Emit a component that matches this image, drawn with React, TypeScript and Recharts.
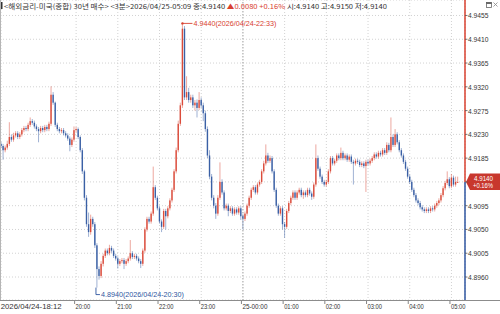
import React from 'react';
import { ComposedChart, Bar, XAxis, YAxis, CartesianGrid, ReferenceLine, ReferenceDot } from 'recharts';

const OPEN = [4.9212,4.9208,4.9200,4.9205,4.9212,4.9225,4.9220,4.9228,4.9232,4.9225,
4.9230,4.9238,4.9242,4.9240,4.9248,4.9255,4.9252,4.9245,4.9240,4.9236,
4.9242,4.9238,4.9244,4.9240,4.9250,4.9305,4.9290,4.9248,4.9240,4.9236,
4.9238,4.9232,4.9228,4.9222,4.9210,4.9220,4.9238,4.9240,4.9225,4.9200,
4.9160,4.9110,4.9060,4.9045,4.9070,4.9060,4.9020,4.8975,4.8962,4.8985,
4.9000,4.9010,4.9005,4.9015,4.9010,4.9000,4.8995,4.8985,4.8990,4.8992,
4.8985,4.8990,4.8995,4.9005,4.8998,4.9000,4.8995,4.8990,4.8985,4.9010,
4.9050,4.9070,4.9065,4.9080,4.9130,4.9110,4.9090,4.9065,4.9055,4.9085,
4.9075,4.9090,4.9105,4.9125,4.9160,4.9200,4.9250,4.9285,4.9430,4.9300,
4.9310,4.9295,4.9300,4.9285,4.9290,4.9280,4.9295,4.9285,4.9270,4.9240,
4.9190,4.9150,4.9110,4.9095,4.9080,4.9110,4.9140,4.9120,4.9090,4.9095,
4.9085,4.9090,4.9080,4.9088,4.9082,4.9090,4.9075,4.9070,4.9080,4.9095,
4.9110,4.9125,4.9130,4.9120,4.9135,4.9140,4.9160,4.9175,4.9190,4.9180,
4.9185,4.9160,4.9125,4.9095,4.9080,4.9090,4.9060,4.9055,4.9085,4.9100,
4.9110,4.9120,4.9110,4.9120,4.9125,4.9115,4.9120,4.9115,4.9125,4.9118,
4.9112,4.9135,4.9185,4.9165,4.9150,4.9140,4.9135,4.9140,4.9160,4.9185,
4.9175,4.9180,4.9190,4.9185,4.9195,4.9185,4.9190,4.9182,4.9188,4.9178,
4.9175,4.9180,4.9178,4.9172,4.9175,4.9170,4.9178,4.9175,4.9180,4.9185,
4.9192,4.9188,4.9195,4.9192,4.9200,4.9195,4.9210,4.9200,4.9225,4.9210,
4.9230,4.9215,4.9200,4.9190,4.9178,4.9165,4.9150,4.9140,4.9125,4.9115,
4.9105,4.9100,4.9092,4.9088,4.9085,4.9088,4.9085,4.9090,4.9088,4.9095,
4.9100,4.9105,4.9115,4.9128,4.9138,4.9145,4.9132,4.9148,4.9135,4.9140];

const HIGH = [4.9216,4.9212,4.9209,4.9218,4.9253,4.9230,4.9233,4.9236,4.9236,4.9234,
4.9242,4.9246,4.9246,4.9252,4.9262,4.9259,4.9256,4.9249,4.9244,4.9246,
4.9246,4.9248,4.9248,4.9254,4.9321,4.9310,4.9292,4.9252,4.9244,4.9242,
4.9242,4.9236,4.9232,4.9226,4.9224,4.9245,4.9244,4.9243,4.9228,4.9204,
4.9163,4.9115,4.9082,4.9078,4.9074,4.9064,4.9024,4.8980,4.8990,4.9004,
4.9014,4.9014,4.9021,4.9019,4.9014,4.9004,4.8999,4.8994,4.8996,4.8996,
4.8994,4.8999,4.9030,4.9009,4.9004,4.9004,4.8999,4.8994,4.9014,4.9054,
4.9074,4.9074,4.9084,4.9169,4.9134,4.9114,4.9094,4.9069,4.9089,4.9089,
4.9094,4.9109,4.9129,4.9164,4.9205,4.9256,4.9290,4.9440,4.9435,4.9340,
4.9318,4.9305,4.9305,4.9295,4.9296,4.9310,4.9300,4.9290,4.9275,4.9245,
4.9200,4.9155,4.9115,4.9100,4.9115,4.9177,4.9145,4.9124,4.9099,4.9099,
4.9094,4.9094,4.9092,4.9092,4.9094,4.9094,4.9079,4.9084,4.9099,4.9114,
4.9129,4.9134,4.9134,4.9139,4.9144,4.9164,4.9180,4.9211,4.9195,4.9190,
4.9189,4.9164,4.9129,4.9099,4.9094,4.9094,4.9064,4.9089,4.9104,4.9114,
4.9124,4.9124,4.9124,4.9129,4.9129,4.9124,4.9124,4.9129,4.9129,4.9122,
4.9139,4.9211,4.9190,4.9169,4.9154,4.9144,4.9144,4.9164,4.9189,4.9189,
4.9184,4.9194,4.9194,4.9205,4.9199,4.9194,4.9194,4.9192,4.9192,4.9182,
4.9184,4.9184,4.9182,4.9179,4.9179,4.9182,4.9182,4.9184,4.9189,4.9196,
4.9196,4.9199,4.9199,4.9204,4.9204,4.9215,4.9214,4.9262,4.9230,4.9240,
4.9234,4.9219,4.9204,4.9194,4.9182,4.9169,4.9154,4.9144,4.9129,4.9119,
4.9109,4.9104,4.9096,4.9092,4.9092,4.9092,4.9094,4.9094,4.9099,4.9104,
4.9109,4.9119,4.9132,4.9142,4.9160,4.9149,4.9155,4.9152,4.9150,4.9150];

const LOW = [4.9204,4.9182,4.9196,4.9201,4.9208,4.9216,4.9216,4.9224,4.9221,4.9221,
4.9226,4.9234,4.9236,4.9236,4.9244,4.9248,4.9241,4.9236,4.9215,4.9232,
4.9234,4.9234,4.9236,4.9236,4.9246,4.9286,4.9244,4.9236,4.9232,4.9232,
4.9228,4.9224,4.9218,4.9198,4.9206,4.9216,4.9234,4.9221,4.9196,4.9155,
4.9105,4.9055,4.9036,4.9040,4.9055,4.9015,4.8940,4.8955,4.8958,4.8980,
4.8996,4.9001,4.9001,4.9006,4.8996,4.8991,4.8976,4.8981,4.8986,4.8975,
4.8981,4.8986,4.8991,4.8994,4.8994,4.8991,4.8986,4.8977,4.8981,4.9006,
4.9046,4.9061,4.9061,4.9076,4.9106,4.9086,4.9061,4.9045,4.9051,4.9050,
4.9071,4.9086,4.9101,4.9121,4.9156,4.9196,4.9246,4.9280,4.9295,4.9295,
4.9290,4.9290,4.9280,4.9275,4.9262,4.9276,4.9280,4.9255,4.9235,4.9185,
4.9145,4.9105,4.9090,4.9070,4.9076,4.9106,4.9116,4.9086,4.9086,4.9075,
4.9081,4.9076,4.9076,4.9078,4.9078,4.9068,4.9050,4.9066,4.9076,4.9091,
4.9106,4.9121,4.9116,4.9116,4.9131,4.9136,4.9156,4.9171,4.9176,4.9176,
4.9156,4.9121,4.9091,4.9076,4.9076,4.9050,4.9034,4.9051,4.9081,4.9096,
4.9106,4.9106,4.9106,4.9116,4.9111,4.9108,4.9111,4.9111,4.9114,4.9106,
4.9108,4.9131,4.9161,4.9146,4.9136,4.9131,4.9131,4.9136,4.9156,4.9171,
4.9171,4.9176,4.9181,4.9181,4.9181,4.9181,4.9178,4.9178,4.9174,4.9135,
4.9171,4.9174,4.9168,4.9168,4.9166,4.9121,4.9171,4.9171,4.9176,4.9181,
4.9184,4.9184,4.9188,4.9188,4.9191,4.9191,4.9196,4.9196,4.9206,4.9206,
4.9211,4.9196,4.9186,4.9174,4.9161,4.9146,4.9136,4.9121,4.9111,4.9101,
4.9096,4.9088,4.9084,4.9081,4.9081,4.9081,4.9081,4.9084,4.9084,4.9091,
4.9096,4.9101,4.9111,4.9124,4.9134,4.9128,4.9128,4.9131,4.9131,4.9140];

const CLOSE = [4.9208,4.9200,4.9205,4.9212,4.9225,4.9220,4.9228,4.9232,4.9225,4.9230,
4.9238,4.9242,4.9240,4.9248,4.9255,4.9252,4.9245,4.9240,4.9236,4.9242,
4.9238,4.9244,4.9240,4.9250,4.9305,4.9290,4.9248,4.9240,4.9236,4.9238,
4.9232,4.9228,4.9222,4.9210,4.9220,4.9238,4.9240,4.9225,4.9200,4.9160,
4.9110,4.9060,4.9045,4.9070,4.9060,4.9020,4.8975,4.8962,4.8985,4.9000,
4.9010,4.9005,4.9015,4.9010,4.9000,4.8995,4.8985,4.8990,4.8992,4.8985,
4.8990,4.8995,4.9005,4.8998,4.9000,4.8995,4.8990,4.8985,4.9010,4.9050,
4.9070,4.9065,4.9080,4.9130,4.9110,4.9090,4.9065,4.9055,4.9085,4.9075,
4.9090,4.9105,4.9125,4.9160,4.9200,4.9250,4.9285,4.9430,4.9300,4.9310,
4.9295,4.9300,4.9285,4.9290,4.9280,4.9295,4.9285,4.9270,4.9240,4.9190,
4.9150,4.9110,4.9095,4.9080,4.9110,4.9140,4.9120,4.9090,4.9095,4.9085,
4.9090,4.9080,4.9088,4.9082,4.9090,4.9075,4.9070,4.9080,4.9095,4.9110,
4.9125,4.9130,4.9120,4.9135,4.9140,4.9160,4.9175,4.9190,4.9180,4.9185,
4.9160,4.9125,4.9095,4.9080,4.9090,4.9060,4.9055,4.9085,4.9100,4.9110,
4.9120,4.9110,4.9120,4.9125,4.9115,4.9120,4.9115,4.9125,4.9118,4.9112,
4.9135,4.9185,4.9165,4.9150,4.9140,4.9135,4.9140,4.9160,4.9185,4.9175,
4.9180,4.9190,4.9185,4.9195,4.9185,4.9190,4.9182,4.9188,4.9178,4.9175,
4.9180,4.9178,4.9172,4.9175,4.9170,4.9178,4.9175,4.9180,4.9185,4.9192,
4.9188,4.9195,4.9192,4.9200,4.9195,4.9210,4.9200,4.9225,4.9210,4.9230,
4.9215,4.9200,4.9190,4.9178,4.9165,4.9150,4.9140,4.9125,4.9115,4.9105,
4.9100,4.9092,4.9088,4.9085,4.9088,4.9085,4.9090,4.9088,4.9095,4.9100,
4.9105,4.9115,4.9128,4.9138,4.9145,4.9132,4.9148,4.9135,4.9140,4.9140];

const EMPTY_SLOTS = 3;
const X_TICK_INDEX = [0, 36, 56, 76, 96, 116, 136, 156, 176, 196, 216];
const X_TICK_LABELS = ['2026/04/24-18:12', '20:00', '21:00', '22:00', '23:00', '25-00:00', '01:00', '02:00', '03:00', '04:00', '05:00'];
const DATE_CHANGE_INDEX = 116;
const Y_TICKS = [4.896, 4.9005, 4.905, 4.9095, 4.914, 4.9185, 4.923, 4.9275, 4.932, 4.9365, 4.941, 4.9455];
const Y_DOMAIN = [4.89165, 4.94843];

const HEADER_TITLE = '<해외금리-미국(종합) 30년 매수> <3분>2026/04/25-05:09 종:4.9140 ';
const HEADER_CHANGE = '▲0.0080 +0.16% ';
const HEADER_OHL = '시:4.9140 고:4.9150 저:4.9140';
const CHANGE_PCT = '+0.16%';
const MAX_TIME = '2026/04/24-22:33';
const MIN_TIME = '2026/04/24-20:30';

const W = 500;
const H = 314;
const PLOT_BOTTOM = 300;
const RED = '#d8402f';
const BLUE = '#2f56a0';
const FONT = '"Liberation Sans", Arial, sans-serif';
const KFONT = '"Noto Sans CJK KR", sans-serif';

const LAST = CLOSE[CLOSE.length - 1];
const MAX_IDX = HIGH.indexOf(Math.max(...HIGH));
const MIN_IDX = LOW.indexOf(Math.min(...LOW));

const data: any[] = [];
for (let i = 0; i < CLOSE.length + EMPTY_SLOTS; i++) {
  if (i < CLOSE.length) {
    data.push({ i, o: OPEN[i], h: HIGH[i], l: LOW[i], c: CLOSE[i], range: [LOW[i], HIGH[i]] });
  } else {
    data.push({ i });
  }
}

const fmt = (v: number) => v.toFixed(4);

function Candle(props: any) {
  const { x, y, width, height, payload } = props;
  if (!payload || payload.c == null || !isFinite(y) || !isFinite(height)) return <g />;
  const { o, h, l, c } = payload;
  const top = Math.min(y, y + height);
  const bot = Math.max(y, y + height);
  const span = h - l;
  const py = (v: number) => (span > 0 ? top + ((h - v) / span) * (bot - top) : top);
  const col = c >= o ? RED : BLUE;
  const cx = x + width / 2;
  const bt = py(Math.max(o, c));
  const bb = py(Math.min(o, c));
  return (
    <g>
      <line x1={cx} x2={cx} y1={top} y2={bot} stroke={col} strokeWidth={1} opacity={0.45} />
      <rect x={cx - 0.7} y={bt} width={1.4} height={Math.max(bb - bt, 1)} fill={col} opacity={0.9} />
    </g>
  );
}

function XTick(props: any) {
  const { x, y, payload } = props;
  const k = X_TICK_INDEX.indexOf(payload.value);
  if (k < 0) return <g />;
  const label = X_TICK_LABELS[k];
  const tx = k === 0 ? 0.7 : x - 1.5;
  const len = label.length > 10 ? 61 : label.length > 5 ? 25 : 14.5;
  return (
    <g>
      {k > 0 && <line x1={tx} x2={tx} y1={y + 1} y2={y + 4} stroke="#666" strokeWidth={0.8} />}
      <text x={k === 0 ? tx : tx + 1} y={y + 9} fontSize={8} fill="#333" fontFamily={FONT} textLength={len} lengthAdjust="spacingAndGlyphs">{label}</text>
    </g>
  );
}

function YTick(props: any) {
  const { x, y, payload } = props;
  const v = Number(payload.value);
  return (
    <g>
      <line x1={x} x2={x + 2.5} y1={y} y2={y} stroke="#555" strokeWidth={0.8} />
      {Math.abs(v - LAST) > 1e-7 && (
        <text x={x + 3} y={y + 3} fontSize={8} fill="#333" fontFamily={FONT} textLength={20.5} lengthAdjust="spacingAndGlyphs">{fmt(v)}</text>
      )}
    </g>
  );
}

function MaxMarker(props: any) {
  const { cx, cy } = props;
  if (!isFinite(cx) || !isFinite(cy)) return <g />;
  return (
    <g>
      <circle cx={cx} cy={cy} r={1.2} fill={RED} />
      <line x1={cx} x2={cx + 10} y1={cy} y2={cy} stroke={RED} strokeWidth={0.9} />
      <text x={cx + 11} y={cy + 3} fontSize={8} fill={RED} fontFamily={FONT} textLength={83} lengthAdjust="spacingAndGlyphs">{`${fmt(HIGH[MAX_IDX])}(${MAX_TIME})`}</text>
    </g>
  );
}

function MinMarker(props: any) {
  const { cx, cy } = props;
  if (!isFinite(cx) || !isFinite(cy)) return <g />;
  return (
    <g>
      <polyline points={`${cx - 1},${cy} ${cx - 1},${cy + 7} ${cx + 3},${cy + 7}`} fill="none" stroke={BLUE} strokeWidth={0.9} />
      <text x={cx + 4} y={cy + 9.5} fontSize={8} fill={BLUE} fontFamily={FONT} textLength={83} lengthAdjust="spacingAndGlyphs">{`${fmt(LOW[MIN_IDX])}(${MIN_TIME})`}</text>
    </g>
  );
}

function PriceTag(props: any) {
  const vb = props.viewBox;
  if (!vb) return <g />;
  const yy = vb.y + (vb.height || 0) / 2;
  const xr = vb.x + vb.width;
  return (
    <g>
      <line x1={xr} x2={xr} y1={0} y2={yy} stroke={RED} strokeWidth={1.5} />
      <line x1={xr} x2={xr} y1={yy} y2={PLOT_BOTTOM} stroke={BLUE} strokeWidth={1.5} />
      <polygon points={`${xr + 1},${yy} ${xr + 5},${yy - 8.5} ${W},${yy - 8.5} ${W},${yy + 8} ${xr + 5},${yy + 8}`} fill="#c8372d" />
      <text x={xr + 9} y={yy - 1} fontSize={7} fill="#fff" fontFamily={FONT} textLength={19} lengthAdjust="spacingAndGlyphs">{fmt(LAST)}</text>
      <text x={xr + 8} y={yy + 6.5} fontSize={7} fill="#fff" fontFamily={FONT} textLength={20} lengthAdjust="spacingAndGlyphs">{CHANGE_PCT}</text>
    </g>
  );
}

export default function App() {
  return (
    <div style={{ position: 'absolute', left: 0, top: 0, width: W, height: H, background: '#fff' }}>
      <ComposedChart width={W} height={H} data={data} margin={{ top: 0, right: 0, bottom: 0, left: 0 }} barCategoryGap={0} barGap={0}>
        <CartesianGrid stroke="#d2d2d2" strokeDasharray="1 2" />
        <XAxis dataKey="i" type="category" ticks={X_TICK_INDEX} interval={0} height={14} axisLine={false} tickLine={false} tickSize={0} tickMargin={0} tick={<XTick />} />
        <YAxis orientation="right" type="number" width={35} domain={Y_DOMAIN} allowDataOverflow ticks={Y_TICKS} interval={0} axisLine={false} tickLine={false} tickSize={0} tickMargin={0} tick={<YTick />} />
        <ReferenceLine x={DATE_CHANGE_INDEX} stroke="#9a9a9a" strokeDasharray="1 2" />
        <Bar dataKey="range" isAnimationActive={false} shape={<Candle />} />
        <ReferenceDot x={MAX_IDX} y={HIGH[MAX_IDX]} r={0} ifOverflow="visible" shape={<MaxMarker />} />
        <ReferenceDot x={MIN_IDX} y={LOW[MIN_IDX]} r={0} ifOverflow="visible" shape={<MinMarker />} />
        <ReferenceLine y={LAST} stroke="none" ifOverflow="visible" label={<PriceTag />} />
      </ComposedChart>
      <svg width={W} height={H} style={{ position: 'absolute', left: 0, top: 0, pointerEvents: 'none' }}>
        <line x1={0.5} x2={0.5} y1={0} y2={PLOT_BOTTOM} stroke="#b5b5b5" />
        <line x1={0} x2={W} y1={PLOT_BOTTOM + 0.5} y2={PLOT_BOTTOM + 0.5} stroke="#8c8c8c" />
        <rect x={1} y={2} width={1.5} height={7} fill="#333" />
        <text x={4} y={9} fontSize={6.8} fill="#333" fontFamily={KFONT} textLength={383} lengthAdjust="spacingAndGlyphs">
          <tspan>{HEADER_TITLE}</tspan>
          <tspan fill={RED}>{HEADER_CHANGE}</tspan>
          <tspan>{HEADER_OHL}</tspan>
        </text>
        <rect x={486.5} y={2.5} width={5} height={5} fill="#fff" stroke="#666" strokeWidth={0.8} />
        <line x1={486.5} x2={491.5} y1={3.2} y2={3.2} stroke="#444" strokeWidth={1.2} />
        <line x1={493.5} x2={497.5} y1={2.5} y2={6.5} stroke="#888" strokeWidth={0.8} />
        <line x1={497.5} x2={493.5} y1={2.5} y2={6.5} stroke="#888" strokeWidth={0.8} />
      </svg>
    </div>
  );
}
